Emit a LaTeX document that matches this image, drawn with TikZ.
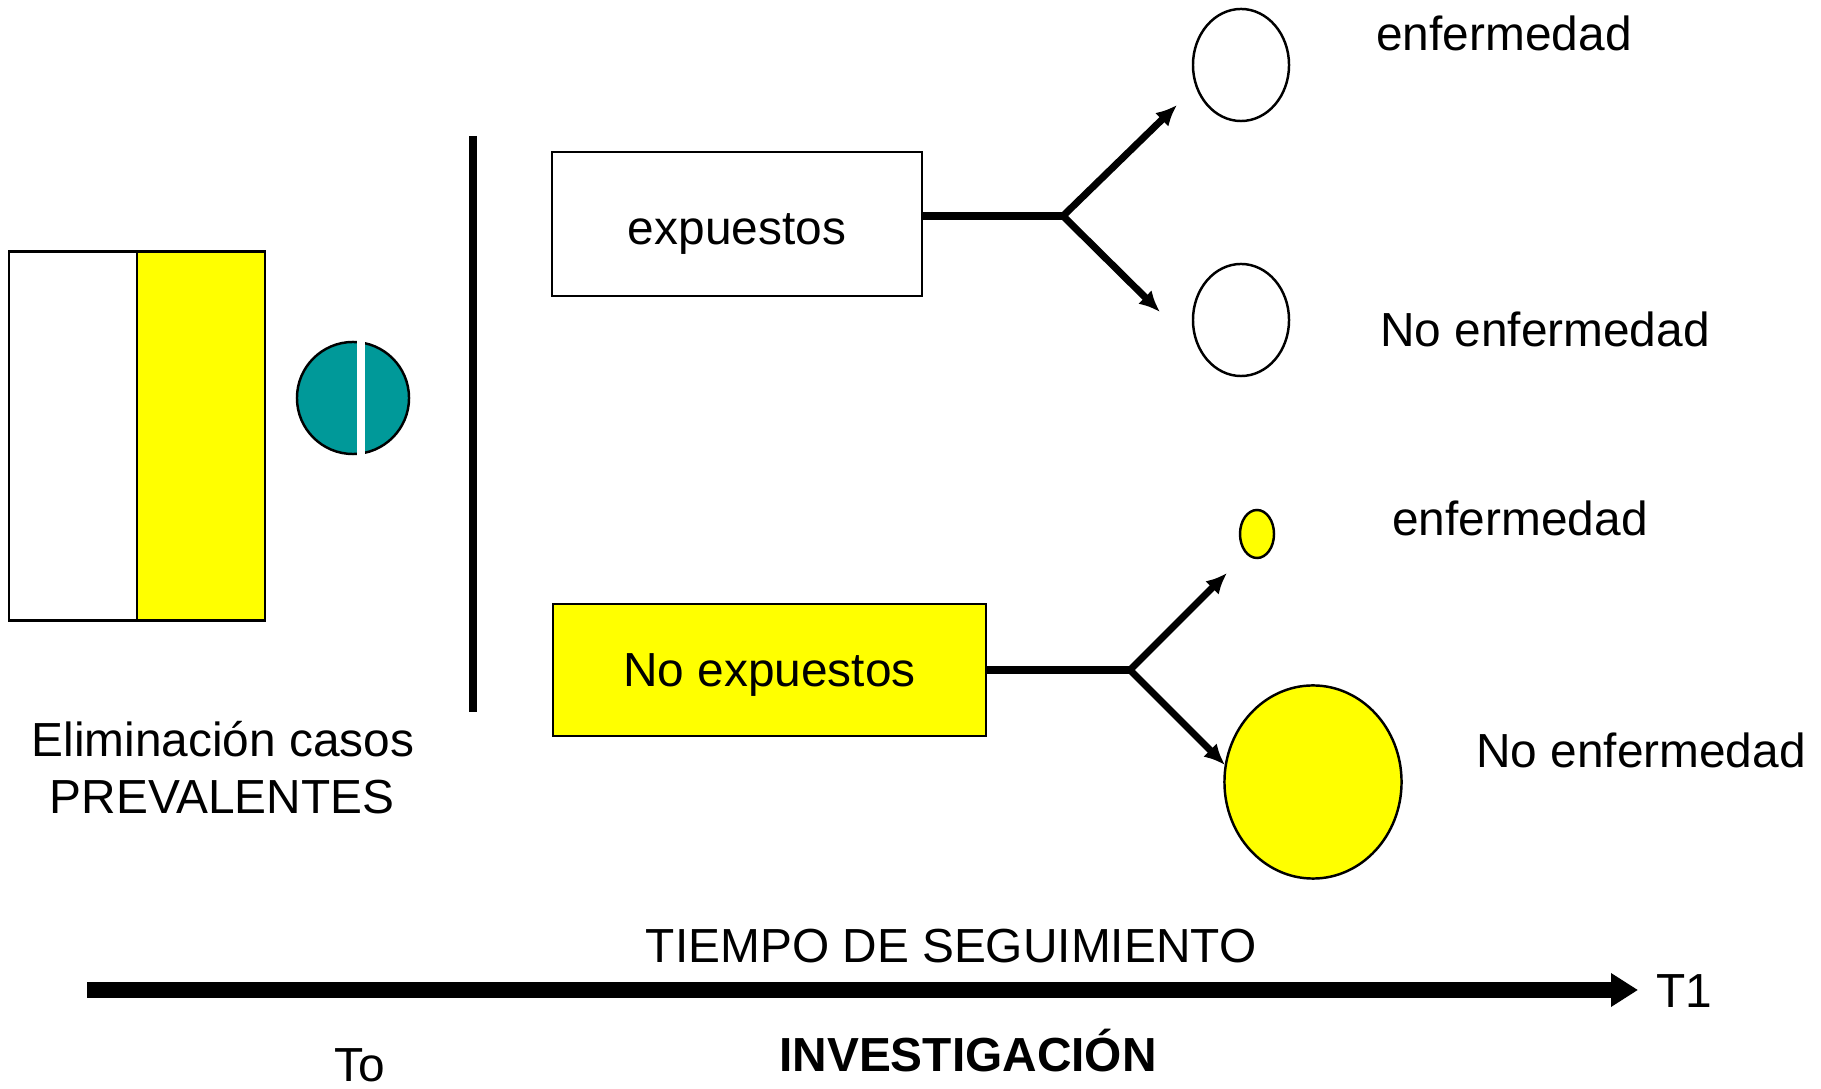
\documentclass[tikz,border=0pt]{standalone}
\usepackage{fontspec}
\setmainfont{Liberation Sans}
\usetikzlibrary{arrows.meta,shapes.geometric,positioning}
\definecolor{verdeazul}{RGB}{0,153,153}
\definecolor{amarillo}{RGB}{255,255,0}

\begin{document}
\begin{tikzpicture}[x=0.01cm,y=-0.01cm,
  every node/.append style={font=\fontsize{13.6pt}{16.5pt}\selectfont},
  grupo/.style={draw,line width=0.7pt,inner sep=0pt,text depth=0pt},
  bola/.style={draw,ellipse,line width=0.7pt,inner sep=0pt},
  tallo/.style={line width=2pt},
  rama/.style={line width=2pt,-{Latex[length=0.21cm,width=0.19cm]}},
  rotulo/.style={anchor=base,inner sep=0pt}]
\useasboundingbox (0,0) rectangle (1821,1089);

% poblacion inicial y casos prevalentes
\node[grupo,minimum width=1.28cm,minimum height=3.69cm] (sanos) at (73,436) {};
\node[grupo,fill=amarillo,minimum width=1.28cm,minimum height=3.69cm] (prev) at (201,436) {};
\node[bola,fill=verdeazul,minimum size=1.12cm] (caso) at (353,398) {};
\fill[white] (357,339) rectangle (365,457);
\node[rotulo] (elim) at (223,757) {Eliminación casos};
\node[rotulo] (prevtxt) at (222,814) {PREVALENTES};

\draw[line width=2pt] (473,136) -- (473,712);

% cohortes
\node[grupo,text height=0.41cm,minimum width=3.70cm,minimum height=1.44cm] (exp) at (737,224) {expuestos};
\node[grupo,fill=amarillo,minimum width=4.33cm,minimum height=1.32cm] (noexp) at (769.5,670) {No expuestos};

\coordinate (j1) at (1063,216);
\coordinate (j2) at (1130,670);
\coordinate (t1) at (1177,105);
\coordinate (t2) at (1160,312);
\coordinate (t3) at (1227,573);
\coordinate (t4) at (1225,765);

\draw[tallo] (exp.east |- j1) -- (j1);
\draw[rama] (j1) -- (t1);
\draw[rama] (j1) -- (t2);
\draw[tallo] (noexp.east) -- (j2);
\draw[rama] (j2) -- (t3);
\draw[rama] (j2) -- (t4);

% resultados
\node[bola,minimum width=0.96cm,minimum height=1.12cm] (enf1) at (1241,65) {};
\node[bola,minimum width=0.96cm,minimum height=1.12cm] (noenf1) at (1241,320) {};
\node[bola,fill=amarillo,minimum width=0.34cm,minimum height=0.48cm] (enf2) at (1257,534) {};
\node[bola,fill=amarillo,minimum width=1.77cm,minimum height=1.93cm] (noenf2) at (1313,782) {};

\node[rotulo] (l1) at (1504,51) {enfermedad};
\node[rotulo] (l2) at (1545,347) {No enfermedad};
\node[rotulo] (l3) at (1520,536) {enfermedad};
\node[rotulo] (l4) at (1641,768) {No enfermedad};

% eje del tiempo
\coordinate (t0) at (87,990);
\coordinate (tfin) at (1638,990);
\draw[line width=4.5pt,-{Triangle[length=0.27cm,width=0.32cm]}] (t0) -- (tfin);
\node[rotulo] (seg) at (951,962) {TIEMPO DE SEGUIMIENTO};
\node[rotulo] (T1) at (1684,1008) {T1};
\node[rotulo] (inv) at (968,1072) {\textbf{INVESTIGACIÓN}};
\node[rotulo] (To) at (360,1081) {To};
\end{tikzpicture}
\end{document}
